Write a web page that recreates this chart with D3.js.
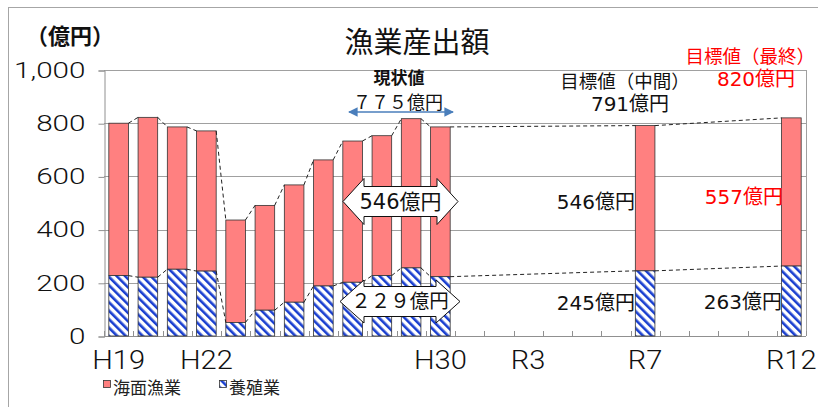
<html>
<head>
<meta charset="utf-8">
<script src="https://cdnjs.cloudflare.com/ajax/libs/d3/7.8.5/d3.min.js"></script>
<style>
body { margin: 0; background: #fff; }
text { font-family: "DejaVu Sans", "Noto Sans CJK JP", sans-serif; }
.jp { font-family: "Noto Sans CJK JP", sans-serif; }
.axisnum { font-family: Roboto, "Liberation Sans", sans-serif; font-weight: 300; }
</style>
</head>
<body>
<svg width="818" height="407"></svg>
<script>

// categories: H19..H30, R1..R12
var years = ["H19","H20","H21","H22","H23","H24","H25","H26","H27","H28","H29","H30",
             "R1","R2","R3","R4","R5","R6","R7","R8","R9","R10","R11","R12"];
var shownLabels = ["H19","H22","H30","R3","R7","R12"];

// total (海面漁業 + 養殖業) and 養殖業, 億円
var totals = [800, 822, 786, 771, 436, 491, 568, 662, 733, 753, 817, 786,
              null, null, null, null, null, null, 791, null, null, null, null, 820];
var aquaculture = [227, 221, 251, 244, 51, 97, 127, 188, 202, 227, 256, 223,
                   null, null, null, null, null, null, 245, null, null, null, null, 263];
var yTicks = [0, 200, 400, 600, 800, 1000];

var svg = d3.select("svg");

var x = d3.scaleBand().domain(years).range([104, 806]).paddingInner(0.33).paddingOuter(0.165);
var y = d3.scaleLinear().domain([0, 1000]).range([336, 70]);

// hatch pattern for 養殖業
var defs = svg.append("defs");
var pat = defs.append("pattern").attr("id", "hatch")
  .attr("patternUnits", "userSpaceOnUse").attr("width", 6).attr("height", 6)
  .attr("patternTransform", "rotate(-45)");
pat.append("rect").attr("width", 6).attr("height", 6).attr("fill", "#fff");
pat.append("rect").attr("width", 2.6).attr("height", 6).attr("fill", "#1a3fd0");

// outer frame
svg.append("rect").attr("x", 8.5).attr("y", 7.5).attr("width", 900).attr("height", 500)
  .attr("fill", "none").attr("stroke", "#a6a6a6");

// gridlines
svg.selectAll("line.grid").data(yTicks).enter().append("line").attr("class", "grid")
  .attr("x1", 104).attr("x2", 806)
  .attr("y1", function (d) { return Math.round(y(d)) + 0.5; })
  .attr("y2", function (d) { return Math.round(y(d)) + 0.5; })
  .attr("stroke", "#a0a0a0");
svg.append("line").attr("x1", 806.5).attr("x2", 806.5).attr("y1", y(1000)).attr("y2", y(0))
  .attr("stroke", "#a0a0a0");

// y axis
var yAxis = svg.append("g").attr("transform", "translate(104.5,0.5)")
  .call(d3.axisLeft(y).tickValues(yTicks).tickSize(6).tickFormat(d3.format(",")));
yAxis.attr("font-family", null);
yAxis.select(".domain").attr("stroke", "#909090");
yAxis.selectAll(".tick line").attr("stroke", "#909090");
yAxis.selectAll(".tick text")
  .attr("class", "axisnum")
  .attr("x", -19 / 1.38)
  .attr("transform", "scale(1.38,1)")
  .attr("font-size", 21.5).attr("fill", "#111");

// x axis line + inner ticks at category boundaries
svg.append("line").attr("x1", 104).attr("x2", 806).attr("y1", 336.5).attr("y2", 336.5)
  .attr("stroke", "#909090");
var step = x.step();
svg.selectAll("line.xtick").data(d3.range(years.length + 1)).enter().append("line")
  .attr("class", "xtick")
  .attr("x1", function (i) { return Math.round(104 + i * step) + 0.5; })
  .attr("x2", function (i) { return Math.round(104 + i * step) + 0.5; })
  .attr("y1", 331).attr("y2", 336).attr("stroke", "#909090");

var xAxis = svg.append("g").attr("transform", "translate(0,336)")
  .call(d3.axisBottom(x).tickValues(shownLabels).tickSize(0));
xAxis.attr("font-family", null);
xAxis.select(".domain").remove();
xAxis.selectAll(".tick text").attr("y", 33).attr("dy", 0)
  .attr("class", "axisnum")
  .attr("transform", "scale(1.12,1)")
  .attr("x", 0)
  .attr("font-size", 26).attr("fill", "#111");

// bars
var rows = years.map(function (yr, i) {
  return { year: yr, total: totals[i], aqua: aquaculture[i] };
}).filter(function (d) { return d.total != null; });

svg.selectAll("rect.sea").data(rows).enter().append("rect").attr("class", "sea")
  .attr("x", function (d) { return x(d.year); })
  .attr("width", x.bandwidth())
  .attr("y", function (d) { return y(d.total); })
  .attr("height", function (d) { return y(d.aqua) - y(d.total); })
  .attr("fill", "#ff8080").attr("stroke", "#333").attr("stroke-width", 0.8);

svg.selectAll("rect.aqua").data(rows).enter().append("rect").attr("class", "aqua")
  .attr("x", function (d) { return x(d.year); })
  .attr("width", x.bandwidth())
  .attr("y", function (d) { return y(d.aqua); })
  .attr("height", function (d) { return y(0) - y(d.aqua); })
  .attr("fill", "url(#hatch)").attr("stroke", "#333").attr("stroke-width", 0.8);

// series lines (dashed connectors)
var pairs = d3.pairs(rows);
["total", "aqua"].forEach(function (key) {
  svg.selectAll("line.conn-" + key).data(pairs).enter().append("line")
    .attr("class", "conn-" + key)
    .attr("x1", function (p) { return x(p[0].year) + x.bandwidth(); })
    .attr("y1", function (p) { return y(p[0][key]); })
    .attr("x2", function (p) { return x(p[1].year); })
    .attr("y2", function (p) { return y(p[1][key]); })
    .attr("stroke", "#222").attr("stroke-width", 1).attr("stroke-dasharray", "4,3");
});

// title & unit
svg.append("text").attr("class", "jp").attr("x", 417).attr("y", 40)
  .attr("text-anchor", "middle").attr("dominant-baseline", "central")
  .attr("font-size", 29).attr("fill", "#111").text("漁業産出額");
svg.append("text").attr("class", "jp").attr("x", 70).attr("y", 34)
  .attr("text-anchor", "middle").attr("dominant-baseline", "central")
  .attr("font-size", 22).attr("font-weight", "bold").attr("fill", "#111").text("（億円）");

// 現状値
svg.append("text").attr("class", "jp").attr("x", 399).attr("y", 76)
  .attr("text-anchor", "middle").attr("dominant-baseline", "central")
  .attr("font-size", 17).attr("font-weight", "bold").attr("fill", "#111").text("現状値");
svg.append("text").attr("class", "jp").attr("x", 398).attr("y", 100.5)
  .attr("text-anchor", "middle").attr("dominant-baseline", "central")
  .attr("font-size", 18).attr("fill", "#111").text("７７５億円");
defs.append("marker").attr("id", "ah").attr("viewBox", "0 0 10 10")
  .attr("refX", 9).attr("refY", 5).attr("markerWidth", 6).attr("markerHeight", 6)
  .attr("orient", "auto-start-reverse")
  .append("path").attr("d", "M0,0L10,5L0,10Z").attr("fill", "#4a7ebb");
svg.append("line").attr("x1", 349).attr("x2", 453).attr("y1", 112).attr("y2", 112)
  .attr("stroke", "#4a7ebb").attr("stroke-width", 1.6)
  .attr("marker-start", "url(#ah)").attr("marker-end", "url(#ah)");

// double-arrow callouts
function callout(x0, x1, cy, head, headH, bodyH, label, size) {
  var p = d3.path();
  p.moveTo(x0, cy);
  p.lineTo(x0 + head, cy - headH);
  p.lineTo(x0 + head, cy - bodyH);
  p.lineTo(x1 - head, cy - bodyH);
  p.lineTo(x1 - head, cy - headH);
  p.lineTo(x1, cy);
  p.lineTo(x1 - head, cy + headH);
  p.lineTo(x1 - head, cy + bodyH);
  p.lineTo(x0 + head, cy + bodyH);
  p.lineTo(x0 + head, cy + headH);
  p.closePath();
  svg.append("path").attr("d", p.toString()).attr("fill", "#fff")
    .attr("stroke", "#111").attr("stroke-width", 1);
  svg.append("text").attr("x", (x0 + x1) / 2).attr("y", cy)
    .attr("text-anchor", "middle").attr("dominant-baseline", "central")
    .attr("font-size", size).attr("fill", "#111").text(label);
}
callout(343, 458, 201.5, 21, 23, 15, "546億円", 21);
callout(340, 460, 301.5, 24, 21.5, 15, "２２９億円", 19.5);

// 目標値
svg.append("text").attr("class", "jp").attr("x", 625).attr("y", 80)
  .attr("text-anchor", "middle").attr("dominant-baseline", "central")
  .attr("font-size", 18.5).attr("fill", "#111").text("目標値（中間）");
svg.append("text").attr("x", 630).attr("y", 103.5)
  .attr("text-anchor", "middle").attr("dominant-baseline", "central")
  .attr("font-size", 20).attr("fill", "#111").text("791億円");
svg.append("text").attr("class", "jp").attr("x", 815).attr("y", 55)
  .attr("text-anchor", "end").attr("dominant-baseline", "central")
  .attr("font-size", 18.5).attr("fill", "#ff0000").text("目標値（最終）");
svg.append("text").attr("x", 756).attr("y", 78.5)
  .attr("text-anchor", "middle").attr("dominant-baseline", "central")
  .attr("font-size", 20).attr("fill", "#ff0000").text("820億円");

var sideLabels = [
  { x: 635, y: 202, t: "546億円", c: "#111" },
  { x: 635, y: 303, t: "245億円", c: "#111" },
  { x: 783, y: 197, t: "557億円", c: "#ff0000" },
  { x: 782, y: 302, t: "263億円", c: "#111" }
];
svg.selectAll("text.side").data(sideLabels).enter().append("text").attr("class", "side")
  .attr("x", function (d) { return d.x; }).attr("y", function (d) { return d.y; })
  .attr("text-anchor", "end").attr("dominant-baseline", "central")
  .attr("font-size", 20).attr("fill", function (d) { return d.c; })
  .text(function (d) { return d.t; });

// legend
var legend = [
  { name: "海面漁業", fill: "#ff8080", x: 103 },
  { name: "養殖業", fill: "url(#hatch)", x: 219 }
];
var lg = svg.selectAll("g.legend").data(legend).enter().append("g").attr("class", "legend")
  .attr("transform", function (d) { return "translate(" + d.x + ",380)"; });
lg.append("rect").attr("x", 0.5).attr("y", 0.5).attr("width", 7).attr("height", 7)
  .attr("fill", function (d) { return d.fill; }).attr("stroke", "#333").attr("stroke-width", 0.8);
lg.append("text").attr("class", "jp").attr("x", 10).attr("y", 6.5)
  .attr("dominant-baseline", "central").attr("font-size", 17).attr("fill", "#222")
  .text(function (d) { return d.name; });

</script>
</body>
</html>
